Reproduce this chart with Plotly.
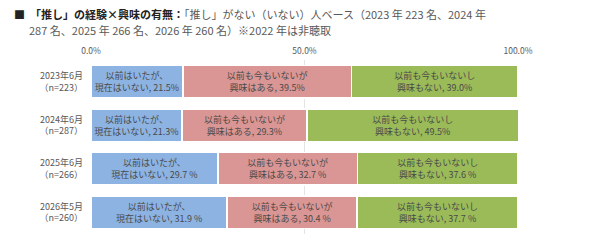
import plotly.graph_objects as go

categories = ["2023年6月<br>（n=223）", "2024年6月<br>（n=287）", "2025年6月<br>（n=266）", "2026年5月<br>（n=260）"]
past_only = [21.5, 21.3, 29.7, 31.9]
interested = [39.5, 29.3, 32.7, 30.4]
not_interested = [39.0, 49.5, 37.6, 37.7]
past_text = ["21.5%", "21.3%", "29.7 %", "31.9 %"]
int_text = ["39.5%", "29.3%", "32.7 %", "30.4 %"]
not_text = ["39.0%", "49.5%", "37.6 %", "37.7 %"]
tick_vals = [0, 50, 100]
tick_labels = ["0.0%", "50.0%", "100.0%"]

FONT = "Noto Sans CJK JP"
series = [
    ("以前はいたが、<br>現在はいない, ", past_only, past_text, "#8db3e2"),
    ("以前も今もいないが<br>興味はある, ", interested, int_text, "#da9694"),
    ("以前も今もいないし<br>興味もない, ", not_interested, not_text, "#9bbb59"),
]

fig = go.Figure()
for prefix, vals, txt, color in series:
    fig.add_trace(go.Bar(
        y=categories, x=vals, orientation="h",
        marker=dict(color=color, line=dict(color="white", width=1.5)),
        text=[prefix + t for t in txt], textposition="inside",
        insidetextanchor="middle", textangle=0,
        textfont=dict(family=FONT, size=9, color="#4a4a4a"),
        showlegend=False, hoverinfo="skip",
    ))

fig.update_layout(
    width=590, height=248, barmode="stack", bargap=0.26,
    margin=dict(l=91, r=72, t=60, b=14),
    paper_bgcolor="white", plot_bgcolor="white",
    uniformtext=dict(minsize=9, mode="show"),
    xaxis=dict(range=[0, 100], side="top", tickvals=tick_vals, ticktext=tick_labels,
               showgrid=True, gridcolor="#e4e4e4", gridwidth=1, zeroline=False,
               tickfont=dict(family=FONT, size=8.5, color="#595959"), ticks="",
               ticklabelstandoff=3, fixedrange=True),
    yaxis=dict(autorange="reversed", tickfont=dict(family=FONT, size=9, color="#595959"),
               ticks="", ticklabelstandoff=7, showgrid=False),
    font=dict(family=FONT),
)

fig.add_annotation(
    xref="paper", yref="paper",
    x=(12 - 91) / 427, y=1 + (60 - 14) / 174, xanchor="left", yanchor="middle",
    text="■  <b>「推し」の経験×興味の有無：</b><span style='color:#595959'>「推し」がない（いない）人ベース（2023 年 223 名、2024 年</span>",
    showarrow=False, font=dict(family=FONT, size=11, color="#222222"),
)
fig.add_annotation(
    xref="paper", yref="paper",
    x=(27 - 91) / 427, y=1 + (60 - 30) / 174, xanchor="left", yanchor="middle",
    text="287 名、2025 年 266 名、2026 年 260 名）※2022 年は非聴取",
    showarrow=False, font=dict(family=FONT, size=11, color="#595959"),
)

fig.write_html("out.html")
